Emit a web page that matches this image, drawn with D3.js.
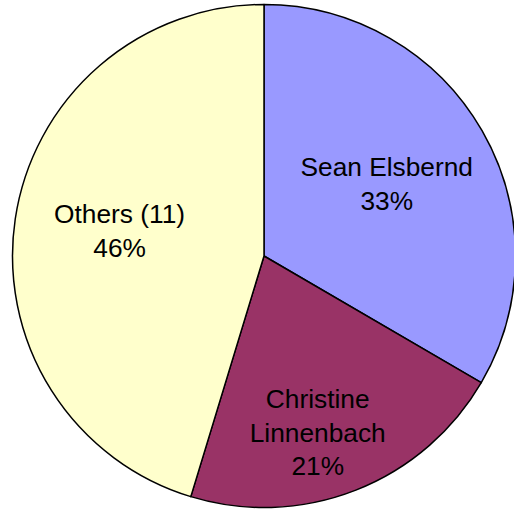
<!DOCTYPE html>
<html><head><meta charset="utf-8">
<script src="https://cdn.jsdelivr.net/npm/d3@7"></script>
<style>html,body{margin:0;padding:0;background:#fff;}svg{display:block;}</style>
</head><body>
<script>
const names = [["Sean Elsbernd"], ["Christine", "Linnenbach"], ["Others (11)"]];
const values = [33.4, 21.3, 45.3];
const pctLabels = ["33%", "21%", "46%"];
const colors = ["#9999ff", "#993366", "#ffffcc"];

const W = 514, H = 509;
const cx = 264, cy = 256, R = 251.5;
const svg = d3.select("body").append("svg").attr("width", W).attr("height", H);
const g = svg.append("g").attr("transform", `translate(${cx},${cy})`);

const pie = d3.pie().sort(null).value(d => d)(values);
const arc = d3.arc().innerRadius(0).outerRadius(R);

g.selectAll("path").data(pie).enter().append("path")
  .attr("d", arc)
  .attr("fill", (d, i) => colors[i])
  .attr("stroke", "#000")
  .attr("stroke-width", 1.5)
  .attr("stroke-linejoin", "round");

const labelR = [143, 190, 146];
const angleShift = [-1, 5, 0];
const yShift = [1, -6, -4];
const fs = 26.3, lh = 33.3;
pie.forEach((d, i) => {
  const a = (d.startAngle + d.endAngle) / 2 + angleShift[i] * Math.PI / 180;
  const x = Math.sin(a) * labelR[i];
  const y = -Math.cos(a) * labelR[i] + yShift[i];
  const lines = names[i].concat([pctLabels[i]]);
  const n = lines.length;
  const t = g.append("text")
    .attr("font-family", "Liberation Sans, Arial, sans-serif")
    .attr("font-size", fs)
    .attr("fill", "#000")
    .attr("text-anchor", "middle");
  lines.forEach((s, j) => {
    t.append("tspan").attr("x", x)
      .attr("y", y + (j - (n - 1) / 2) * lh + fs * 0.36)
      .text(s);
  });
});
</script>
</body></html>
